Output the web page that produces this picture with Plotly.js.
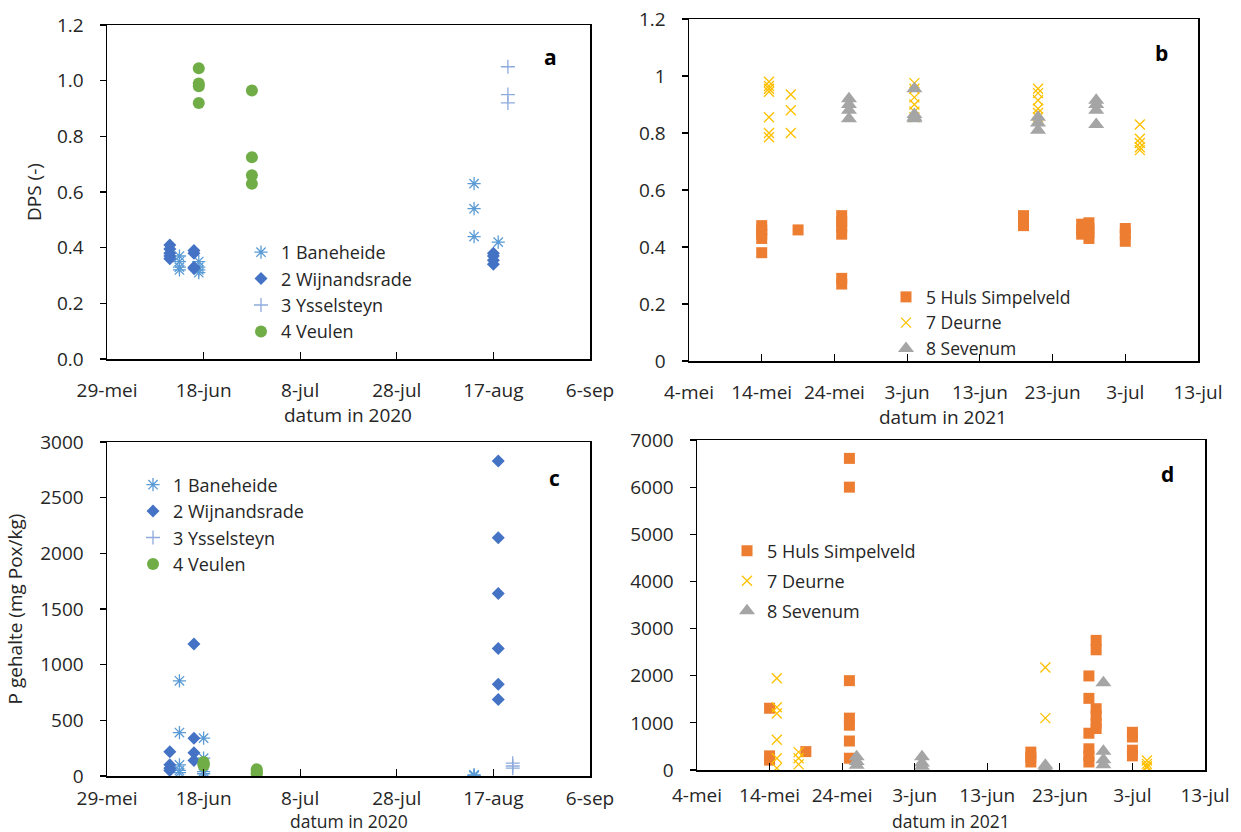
<!DOCTYPE html>
<html>
<head>
<meta charset="utf-8">
<script src="https://cdn.plot.ly/plotly-3.0.1.min.js"></script>
<style>
  html, body { margin: 0; padding: 0; background: #ffffff; }
  #chart { width: 1241px; height: 832px; }
</style>
</head>
<body>
<div id="chart"></div>
<script>
// ---------- tick labels ----------
const ticks2020 = ['2020-05-29','2020-06-18','2020-07-08','2020-07-28','2020-08-17','2020-09-06'];
const tickLabels2020 = ['29-mei','18-jun','8-jul','28-jul','17-aug','6-sep'];
const ticks2021 = ['2021-05-04','2021-05-14','2021-05-24','2021-06-03','2021-06-13','2021-06-23','2021-07-03','2021-07-13'];
const tickLabels2021 = ['4-mei','14-mei','24-mei','3-jun','13-jun','23-jun','3-jul','13-jul'];

// ---------- panel a: DPS 2020 ----------
const aBaneheideDates = ['2020-06-13','2020-06-13','2020-06-13','2020-06-13','2020-06-17','2020-06-17','2020-06-17','2020-06-17','2020-08-13','2020-08-13','2020-08-13','2020-08-18'];
const aBaneheide      = [0.37,0.35,0.33,0.32, 0.35,0.33,0.32,0.31, 0.63,0.54,0.44, 0.42];
const aWijnandsradeDates = ['2020-06-11','2020-06-11','2020-06-11','2020-06-11','2020-06-11','2020-06-16','2020-06-16','2020-06-16','2020-06-16','2020-08-17','2020-08-17','2020-08-17','2020-08-17'];
const aWijnandsrade      = [0.41,0.395,0.38,0.37,0.36, 0.39,0.38,0.33,0.325, 0.38,0.37,0.355,0.34];
const aYsselsteynDates = ['2020-08-20','2020-08-20','2020-08-20'];
const aYsselsteyn      = [1.05,0.95,0.92];
const aVeulenDates = ['2020-06-17','2020-06-17','2020-06-17','2020-06-17','2020-06-28','2020-06-28','2020-06-28','2020-06-28'];
const aVeulen      = [1.045,0.99,0.98,0.92, 0.965,0.725,0.66,0.63];

// ---------- panel b: DPS 2021 ----------
const bHulsDates = ['2021-05-14','2021-05-14','2021-05-14','2021-05-14','2021-05-14','2021-05-19','2021-05-25','2021-05-25','2021-05-25','2021-05-25','2021-05-25','2021-05-25','2021-06-19','2021-06-19','2021-06-19','2021-06-27','2021-06-27','2021-06-27','2021-06-28','2021-06-28','2021-06-28','2021-06-28','2021-07-03','2021-07-03','2021-07-03'];
const bHuls      = [0.475,0.46,0.445,0.43,0.38, 0.46, 0.51,0.49,0.47,0.445,0.29,0.27, 0.51,0.49,0.475, 0.48,0.46,0.445, 0.485,0.465,0.45,0.43, 0.465,0.445,0.42];
const bDeurneDates = ['2021-05-15','2021-05-15','2021-05-15','2021-05-15','2021-05-15','2021-05-15','2021-05-15','2021-05-18','2021-05-18','2021-05-18','2021-06-04','2021-06-04','2021-06-04','2021-06-04','2021-06-04','2021-06-04','2021-06-21','2021-06-21','2021-06-21','2021-06-21','2021-06-21','2021-06-21','2021-07-05','2021-07-05','2021-07-05','2021-07-05','2021-07-05'];
const bDeurne      = [0.98,0.965,0.955,0.945,0.855,0.80,0.785, 0.935,0.88,0.80, 0.975,0.955,0.925,0.90,0.875,0.855, 0.955,0.94,0.915,0.885,0.87,0.855, 0.83,0.78,0.765,0.75,0.74];
const bSevenumDates = ['2021-05-26','2021-05-26','2021-05-26','2021-05-26','2021-06-04','2021-06-04','2021-06-04','2021-06-04','2021-06-21','2021-06-21','2021-06-21','2021-06-29','2021-06-29','2021-06-29','2021-06-29'];
const bSevenum      = [0.92,0.90,0.88,0.85, 0.955,0.865,0.855,0.85, 0.855,0.835,0.81, 0.915,0.90,0.88,0.83];

// ---------- panel c: P gehalte 2020 ----------
const cBaneheideDates = ['2020-06-13','2020-06-13','2020-06-13','2020-06-13','2020-06-13','2020-06-18','2020-06-18','2020-06-18','2020-06-18','2020-08-13','2020-08-13','2020-08-13'];
const cBaneheide      = [855,390,100,50,30, 340,160,40,20, 10,5,0];
const cWijnandsradeDates = ['2020-06-11','2020-06-11','2020-06-11','2020-06-11','2020-06-16','2020-06-16','2020-06-16','2020-06-16','2020-08-18','2020-08-18','2020-08-18','2020-08-18','2020-08-18','2020-08-18'];
const cWijnandsrade      = [218,100,70,50, 1185,338,209,140, 2830,2139,1640,1146,823,688];
const cYsselsteynDates = ['2020-08-21','2020-08-21','2020-08-21'];
const cYsselsteyn      = [115,90,70];
const cVeulenDates = ['2020-06-18','2020-06-18','2020-06-18','2020-06-18','2020-06-29','2020-06-29','2020-06-29','2020-06-29'];
const cVeulen      = [125,110,100,95, 60,45,30,20];

// ---------- panel d: P gehalte 2021 ----------
const dHulsDates = ['2021-05-14','2021-05-14','2021-05-14','2021-05-19','2021-05-25','2021-05-25','2021-05-25','2021-05-25','2021-05-25','2021-05-25','2021-05-25','2021-06-19','2021-06-19','2021-06-19','2021-06-27','2021-06-27','2021-06-27','2021-06-27','2021-06-27','2021-06-27','2021-06-28','2021-06-28','2021-06-28','2021-06-28','2021-06-28','2021-06-28','2021-07-03','2021-07-03','2021-07-03','2021-07-03'];
const dHuls      = [1310,300,210, 390, 6610,6000,1895,1100,950,615,250, 380,270,170, 1995,1520,780,450,300,170, 2750,2550,1300,1150,1000,880, 800,700,420,300];
const dDeurneDates = ['2021-05-15','2021-05-15','2021-05-15','2021-05-15','2021-05-15','2021-05-15','2021-05-18','2021-05-18','2021-05-18','2021-06-21','2021-06-21','2021-07-05','2021-07-05','2021-07-05','2021-07-05'];
const dDeurne      = [1945,1330,1200,640,250,40, 380,250,120, 2175,1100, 200,130,80,50];
const dSevenumDates = ['2021-05-26','2021-05-26','2021-05-26','2021-06-04','2021-06-04','2021-06-04','2021-06-21','2021-06-21','2021-06-29','2021-06-29','2021-06-29','2021-06-29'];
const dSevenum      = [280,180,100, 280,150,80, 100,50, 1850,400,220,110];

// ---------- styling ----------
const W = 1241, H = 832;
const FONT = 'Open Sans, Noto Sans, sans-serif';
const TXT = '#262626';
const C_BANE = '#5B9BD5', C_WIJN = '#4472C4', C_YSSE = '#8FAADC', C_VEUL = '#70AD47';
const C_HULS = '#ED7D31', C_DEUR = '#FFC000', C_SEVE = '#A5A5A5';

function fx(px) { return px / W; }
function fy(py) { return 1 - py / H; }

function series(name, x, y, symbol, size, color, open, xa, ya, legend) {
  return {
    type: 'scatter', mode: 'markers', name: name, x: x, y: y,
    xaxis: xa, yaxis: ya, legend: legend, legendgroup: legend + name,
    marker: { symbol: symbol, size: size, color: color,
              line: { width: open ? 1.3 : 0, color: color } },
    hoverinfo: 'x+y+name'
  };
}

const traces = [
  series('1 Baneheide', aBaneheideDates, aBaneheide, 'asterisk-open', 11, C_BANE, true, 'x', 'y', 'legend'),
  series('2 Wijnandsrade', aWijnandsradeDates, aWijnandsrade, 'diamond', 10, C_WIJN, false, 'x', 'y', 'legend'),
  series('3 Ysselsteyn', aYsselsteynDates, aYsselsteyn, 'cross-thin-open', 10, C_YSSE, true, 'x', 'y', 'legend'),
  series('4 Veulen', aVeulenDates, aVeulen, 'circle', 12, C_VEUL, false, 'x', 'y', 'legend'),

  series('5 Huls Simpelveld', bHulsDates, bHuls, 'square', 11, C_HULS, false, 'x2', 'y2', 'legend2'),
  series('7 Deurne', bDeurneDates, bDeurne, 'x-thin-open', 10, C_DEUR, true, 'x2', 'y2', 'legend2'),
  series('8 Sevenum', bSevenumDates, bSevenum, 'triangle-up', 14, C_SEVE, false, 'x2', 'y2', 'legend2'),

  series('1 Baneheide', cBaneheideDates, cBaneheide, 'asterisk-open', 11, C_BANE, true, 'x3', 'y3', 'legend3'),
  series('2 Wijnandsrade', cWijnandsradeDates, cWijnandsrade, 'diamond', 10, C_WIJN, false, 'x3', 'y3', 'legend3'),
  series('3 Ysselsteyn', cYsselsteynDates, cYsselsteyn, 'cross-thin-open', 10, C_YSSE, true, 'x3', 'y3', 'legend3'),
  series('4 Veulen', cVeulenDates, cVeulen, 'circle', 12, C_VEUL, false, 'x3', 'y3', 'legend3'),

  series('5 Huls Simpelveld', dHulsDates, dHuls, 'square', 11, C_HULS, false, 'x4', 'y4', 'legend4'),
  series('7 Deurne', dDeurneDates, dDeurne, 'x-thin-open', 10, C_DEUR, true, 'x4', 'y4', 'legend4'),
  series('8 Sevenum', dSevenumDates, dSevenum, 'triangle-up', 14, C_SEVE, false, 'x4', 'y4', 'legend4')
];

function xAxis(domainPx, range, vals, labels, anchor, standoff) {
  return {
    type: 'date', domain: [fx(domainPx[0]), fx(domainPx[1])], anchor: anchor,
    range: range, tickmode: 'array', tickvals: vals, ticktext: labels,
    ticks: 'inside', ticklen: 7, tickwidth: 1.2, tickcolor: '#000',
    showline: true, linecolor: '#000', linewidth: 1.5, mirror: true,
    showgrid: false, zeroline: false, ticklabelstandoff: standoff,
    tickfont: { family: FONT, size: 19, color: TXT }
  };
}
function yAxis(domainPx, range, dtick, fmt, anchor, title, standoff) {
  const ax = {
    domain: [fy(domainPx[1]), fy(domainPx[0])], anchor: anchor,
    range: range, dtick: dtick, tick0: 0, tickformat: fmt,
    ticks: 'outside', ticklen: 6, tickwidth: 1.2, tickcolor: '#000',
    showline: true, linecolor: '#000', linewidth: 1.5, mirror: true,
    showgrid: false, zeroline: false, ticklabelstandoff: 12,
    tickfont: { family: FONT, size: 19, color: TXT }
  };
  if (title) ax.title = { text: title, font: { family: FONT, size: 19, color: TXT }, standoff: standoff };
  return ax;
}
function legendAt(leftPx, topPx, size, gap) {
  return { x: fx(leftPx), y: fy(topPx), xanchor: 'left', yanchor: 'top',
           bgcolor: 'rgba(0,0,0,0)', borderwidth: 0, tracegroupgap: gap,
           font: { family: FONT, size: size, color: TXT } };
}
function note(text, xPx, yPx, opts) {
  return Object.assign({ text: text, x: fx(xPx), y: fy(yPx), xref: 'paper', yref: 'paper',
    xanchor: 'center', yanchor: 'middle', showarrow: false,
    font: { family: FONT, size: 19, color: TXT } }, opts || {});
}
const titleFontSmall = { font: { family: FONT, size: 17.5, color: TXT } };
const letterFont = { font: { family: FONT, size: 21, color: '#000' } };

const layout = {
  width: W, height: H, margin: { l: 0, r: 0, t: 0, b: 0 },
  paper_bgcolor: '#ffffff', plot_bgcolor: '#ffffff',
  showlegend: true,
  xaxis:  xAxis([107, 590], ['2020-05-29', '2020-09-06'], ticks2020, tickLabels2020, 'y', 14),
  yaxis:  yAxis([25, 359], [0, 1.2], 0.2, '.1f', 'x', 'DPS (-)', 10),
  xaxis2: xAxis([689, 1198], ['2021-05-04', '2021-07-13'], ticks2021, tickLabels2021, 'y2', 14),
  yaxis2: yAxis([19, 361], [0, 1.2], 0.2, '', 'x2', null, 0),
  xaxis3: xAxis([107, 590], ['2020-05-29', '2020-09-06'], ticks2020, tickLabels2020, 'y3', 5),
  yaxis3: yAxis([442, 776], [0, 3000], 500, 'd', 'x3', 'P gehalte (mg Pox/kg)', 12),
  xaxis4: xAxis([697, 1205], ['2021-05-04', '2021-07-13'], ticks2021, tickLabels2021, 'y4', 8),
  yaxis4: yAxis([440, 770], [0, 7000], 1000, 'd', 'x4', null, 0),
  legend:  legendAt(241, 234, 18, 0),
  legend2: legendAt(886, 279, 17.5, 0),
  legend3: legendAt(133, 466.5, 18, 0),
  legend4: legendAt(727, 532.5, 18, 3.6),
  annotations: [
    note('datum in 2020', 348, 415),
    note('datum in 2021', 943, 417),
    note('datum in 2020', 349, 820.5, titleFontSmall),
    note('datum in 2021', 951, 820.5, titleFontSmall),
    note('<b>a</b>', 550, 57, letterFont),
    note('<b>b</b>', 1161, 53, letterFont),
    note('<b>c</b>', 554, 478, letterFont),
    note('<b>d</b>', 1167, 474, letterFont)
  ]
};

Plotly.newPlot('chart', traces, layout, { displayModeBar: false, staticPlot: true });
</script>
</body>
</html>
